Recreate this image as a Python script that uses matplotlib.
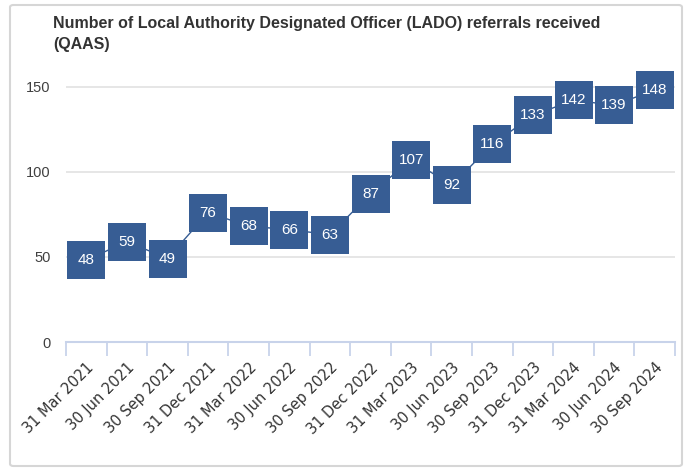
import matplotlib.pyplot as plt
import numpy as np
from matplotlib.patches import FancyBboxPatch
from matplotlib.ticker import FixedLocator

quarters = ['31 Mar 2021', '30 Jun 2021', '30 Sep 2021', '31 Dec 2021',
            '31 Mar 2022', '30 Jun 2022', '30 Sep 2022', '31 Dec 2022',
            '31 Mar 2023', '30 Jun 2023', '30 Sep 2023', '31 Dec 2023',
            '31 Mar 2024', '30 Jun 2024', '30 Sep 2024']
referrals = [48, 59, 49, 76, 68, 66, 63, 87, 107, 92, 116, 133, 142, 139, 148]
y_ticks = [0, 50, 100, 150]

title = "Number of Local Authority Designated Officer (LADO) referrals received\n(QAAS)"

box_colour = '#375d94'
axis_colour = '#c8d3ea'

fig = plt.figure(figsize=(6.93, 4.68), dpi=100)
ax = fig.add_axes([66 / 693, 1 - 342 / 468, 609 / 693, 281 / 468])

x = np.arange(len(quarters))

# line underneath, boxes on top
ax.plot(x, referrals, color=box_colour, linewidth=1, zorder=2)
ax.scatter(x, referrals, marker='s', s=760, color=box_colour, zorder=3, linewidths=0)
for xi, v in zip(x, referrals):
    ax.text(xi, v, str(v), color='white', ha='center', va='center',
            fontsize=11, family='Liberation Sans', zorder=4)

ax.set_xlim(-0.5, len(quarters) - 0.5)
ax.set_ylim(0, 165)

ax.set_yticks(y_ticks)
ax.set_yticklabels([str(t) for t in y_ticks], family='Liberation Sans', fontsize=10.5, color='#404040')
ax.tick_params(axis='y', length=0, pad=11)
ax.grid(axis='y', color='#e4e4e4', linewidth=1.3)
ax.set_axisbelow(True)

# boundary ticks as major, labels on category centres as minor
ax.xaxis.set_major_locator(FixedLocator(np.arange(-0.5, len(quarters), 1)))
ax.xaxis.set_major_formatter(plt.NullFormatter())
ax.tick_params(axis='x', which='major', length=10, width=1.3, color=axis_colour)
ax.xaxis.set_minor_locator(FixedLocator(x))
ax.set_xticklabels(quarters, minor=True, rotation=45, ha='right', va='top',
                   rotation_mode='anchor', fontsize=10.5, color='#333333')
ax.tick_params(axis='x', which='minor', length=0, pad=13)

for side in ['top', 'right', 'left']:
    ax.spines[side].set_visible(False)
ax.spines['bottom'].set_color(axis_colour)
ax.spines['bottom'].set_linewidth(1.5)

fig.text(53 / 693, 1 - 16 / 468, title, ha='left', va='top', fontsize=11.5,
         fontweight='bold', family='Liberation Sans', color='#333333', linespacing=1.5)

border = FancyBboxPatch((10 / 693, 2 / 468), 672 / 693, 461 / 468,
                        boxstyle='round,pad=0,rounding_size=0.005',
                        transform=fig.transFigure, facecolor='none',
                        edgecolor='#d6d6d6', linewidth=1.5)
fig.patches.append(border)

plt.savefig('out.png', dpi=100)
